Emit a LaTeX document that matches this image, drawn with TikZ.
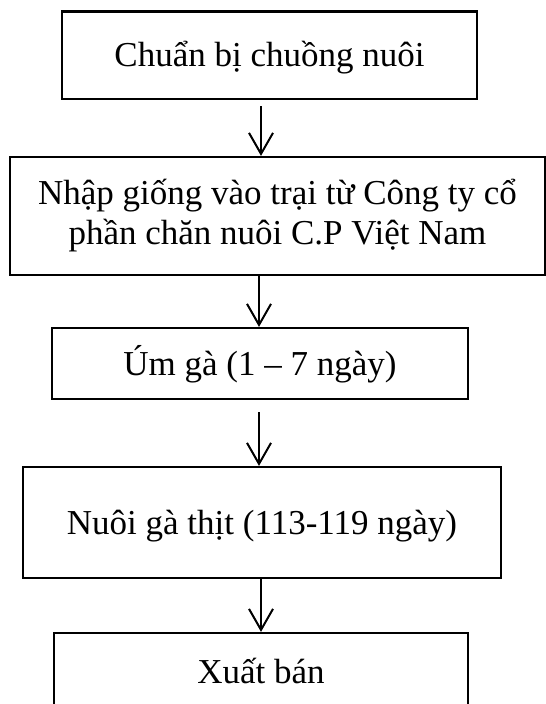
\documentclass[tikz,border=0pt]{standalone}
\usepackage{fontspec}
\setmainfont{Liberation Serif}
\usetikzlibrary{arrows.meta}
\tikzset{
  stepbox/.style={draw=black, line width=2.2pt, rectangle, inner sep=0pt,
    font=\fontsize{35}{40}\selectfont},
  oneline/.style={text height=30pt, text depth=7pt},
  flow/.style={draw=black, line width=2pt,
    -{Straight Barb[length=21pt,width=24pt,line width=2pt]}}
}
\begin{document}
\begin{tikzpicture}[x=1pt,y=-1pt]
\useasboundingbox (0,0) rectangle (546,704);
\fill[white] (0,0) rectangle (546,704);

\node[stepbox, oneline, minimum width=415pt, minimum height=87.5pt]
  (s1) at (269.5,55.25) {Chuẩn bị chuồng nuôi};
\node[stepbox, minimum width=535pt, minimum height=118pt, align=center]
  (s2) at (277.5,216) {Nhập giống vào trại từ Công ty cổ\\phần chăn nuôi C.P Việt Nam};
\node[stepbox, oneline, minimum width=416pt, minimum height=71pt]
  (s3) at (260,363.5) {Úm gà (1 – 7 ngày)};
\node[stepbox, oneline, minimum width=478pt, minimum height=111pt]
  (s4) at (262,522.5) {Nuôi gà thịt (113-119 ngày)};
\node[stepbox, oneline, minimum width=414pt, minimum height=77pt]
  (s5) at (261,671.5) {Xuất bán};

\draw[flow] ([xshift=-8.5pt,yshift=-6pt]s1.south) -- ([xshift=-16.5pt]s2.north);
\draw[flow] ([xshift=-18.5pt]s2.south) -- ([xshift=-1pt]s3.north);
\draw[flow] ([xshift=-1pt,yshift=-12pt]s3.south) -- ([xshift=-3pt]s4.north);
\draw[flow] ([xshift=-1pt]s4.south) -- ([xshift=0pt]s5.north);
\end{tikzpicture}
\end{document}
